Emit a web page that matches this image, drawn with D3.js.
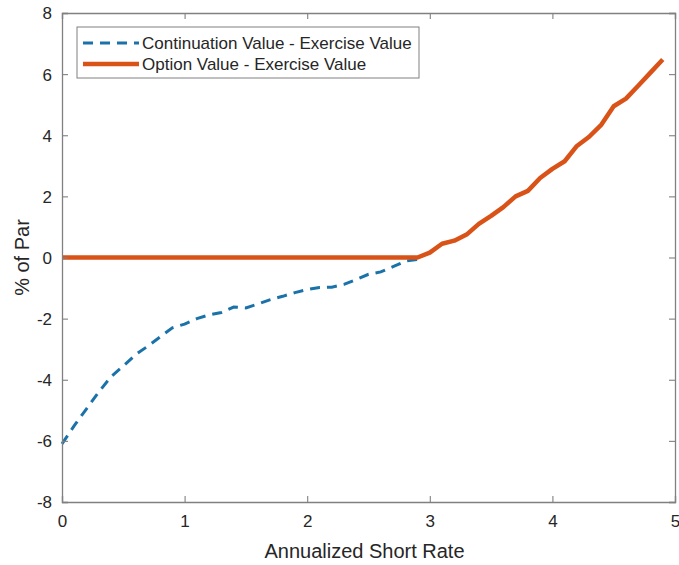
<!DOCTYPE html>
<html><head><meta charset="utf-8">
<script src="https://cdn.jsdelivr.net/npm/d3@7"></script>
<style>body{margin:0;background:#fff;} text{font-family:"Liberation Sans",Arial,sans-serif;}</style>
</head><body>
<svg id="c" width="679" height="565"></svg>
<script>
const contX = [0,0.1,0.2,0.3,0.4,0.5,0.6,0.7,0.8,0.9,1.0,1.1,1.2,1.3,1.4,1.5,1.6,1.7,1.8,1.9,2.0,2.1,2.2,2.3,2.4,2.5,2.6,2.7,2.8,2.9];
const contY = [-6.1,-5.5,-4.95,-4.4,-3.9,-3.55,-3.18,-2.9,-2.6,-2.3,-2.18,-2.0,-1.88,-1.8,-1.62,-1.65,-1.52,-1.38,-1.27,-1.15,-1.05,-0.98,-0.97,-0.88,-0.72,-0.55,-0.47,-0.3,-0.12,-0.06];
const optX = [0,0.5,1.0,1.5,2.0,2.5,2.9,3.0,3.1,3.2,3.3,3.4,3.5,3.6,3.7,3.8,3.9,4.0,4.1,4.2,4.3,4.4,4.5,4.6,4.7,4.8,4.9];
const optY = [0,0,0,0,0,0,0,0.16,0.45,0.55,0.75,1.1,1.36,1.65,2.0,2.18,2.6,2.9,3.15,3.65,3.95,4.35,4.95,5.2,5.62,6.05,6.48];
const xTicks = [0,1,2,3,4,5];
const yTicks = [-8,-6,-4,-2,0,2,4,6,8];
const seriesNames = ["Continuation Value - Exercise Value","Option Value - Exercise Value"];
const xLabel = "Annualized Short Rate";
const yLabel = "% of Par";

const svg = d3.select("#c");
const L=62, R=675, T=13, B=502;
const x = d3.scaleLinear().domain([0,5]).range([L,R]);
const y = d3.scaleLinear().domain([-8,8]).range([B,T]);
const axCol="#808080", txtCol="#262626";
const fmt = d => String(d);

const line = d3.line().x(d=>x(d[0])).y(d=>y(d[1]));
const contData = contX.map((v,i)=>[v,contY[i]]);
const optData = optX.map((v,i)=>[v,optY[i]]);

svg.append("path").datum(contData).attr("d",line).attr("fill","none")
  .attr("stroke","#1b72a9").attr("stroke-width",3).attr("stroke-dasharray","10,7");
svg.append("path").datum(optData).attr("d",line).attr("fill","none")
  .attr("stroke","#d95319").attr("stroke-width",4.5).attr("stroke-linejoin","round");

// axes
const gB = svg.append("g").attr("transform",`translate(0,${B})`)
  .call(d3.axisBottom(x).tickValues(xTicks).tickSize(-6).tickPadding(13).tickFormat(fmt));
const gT = svg.append("g").attr("transform",`translate(0,${T})`)
  .call(d3.axisTop(x).tickValues(xTicks).tickSize(-6).tickFormat(""));
const gL = svg.append("g").attr("transform",`translate(${L},0)`)
  .call(d3.axisLeft(y).tickValues(yTicks).tickSize(-6).tickPadding(10).tickFormat(fmt));
const gR = svg.append("g").attr("transform",`translate(${R},0)`)
  .call(d3.axisRight(y).tickValues(yTicks).tickSize(-6).tickFormat(""));
[gB,gT,gL,gR].forEach(g=>{
  g.select(".domain").attr("stroke",axCol).attr("stroke-width",1.3);
  g.selectAll(".tick line").attr("stroke",axCol).attr("stroke-width",1.1);
  g.selectAll(".tick text").attr("fill",txtCol).style("font-size","17px").style("font-family","Liberation Sans, Arial, sans-serif");
});
gL.selectAll(".tick text").attr("dy","0.35em");

svg.append("text").attr("x",(L+R)/2-4).attr("y",558).attr("text-anchor","middle")
  .attr("fill",txtCol).style("font-size","20px").text(xLabel);
svg.append("text").attr("transform",`translate(29,${(T+B)/2}) rotate(-90)`).attr("text-anchor","middle")
  .attr("fill",txtCol).style("font-size","20px").text(yLabel);

// legend
const lg = svg.append("g");
lg.append("rect").attr("x",77).attr("y",27).attr("width",342).attr("height",51)
  .attr("fill","#fff").attr("stroke","#808080").attr("stroke-width",1);
lg.append("line").attr("x1",83).attr("x2",139).attr("y1",43).attr("y2",43)
  .attr("stroke","#1b72a9").attr("stroke-width",3).attr("stroke-dasharray","10,7");
lg.append("line").attr("x1",83).attr("x2",139).attr("y1",64).attr("y2",64)
  .attr("stroke","#d95319").attr("stroke-width",4.5);
seriesNames.forEach((n,i)=>{
  lg.append("text").attr("x",142).attr("y",43+i*21).attr("dy","0.35em")
    .attr("fill",txtCol).style("font-size","17px").text(n);
});
</script>
</body></html>
